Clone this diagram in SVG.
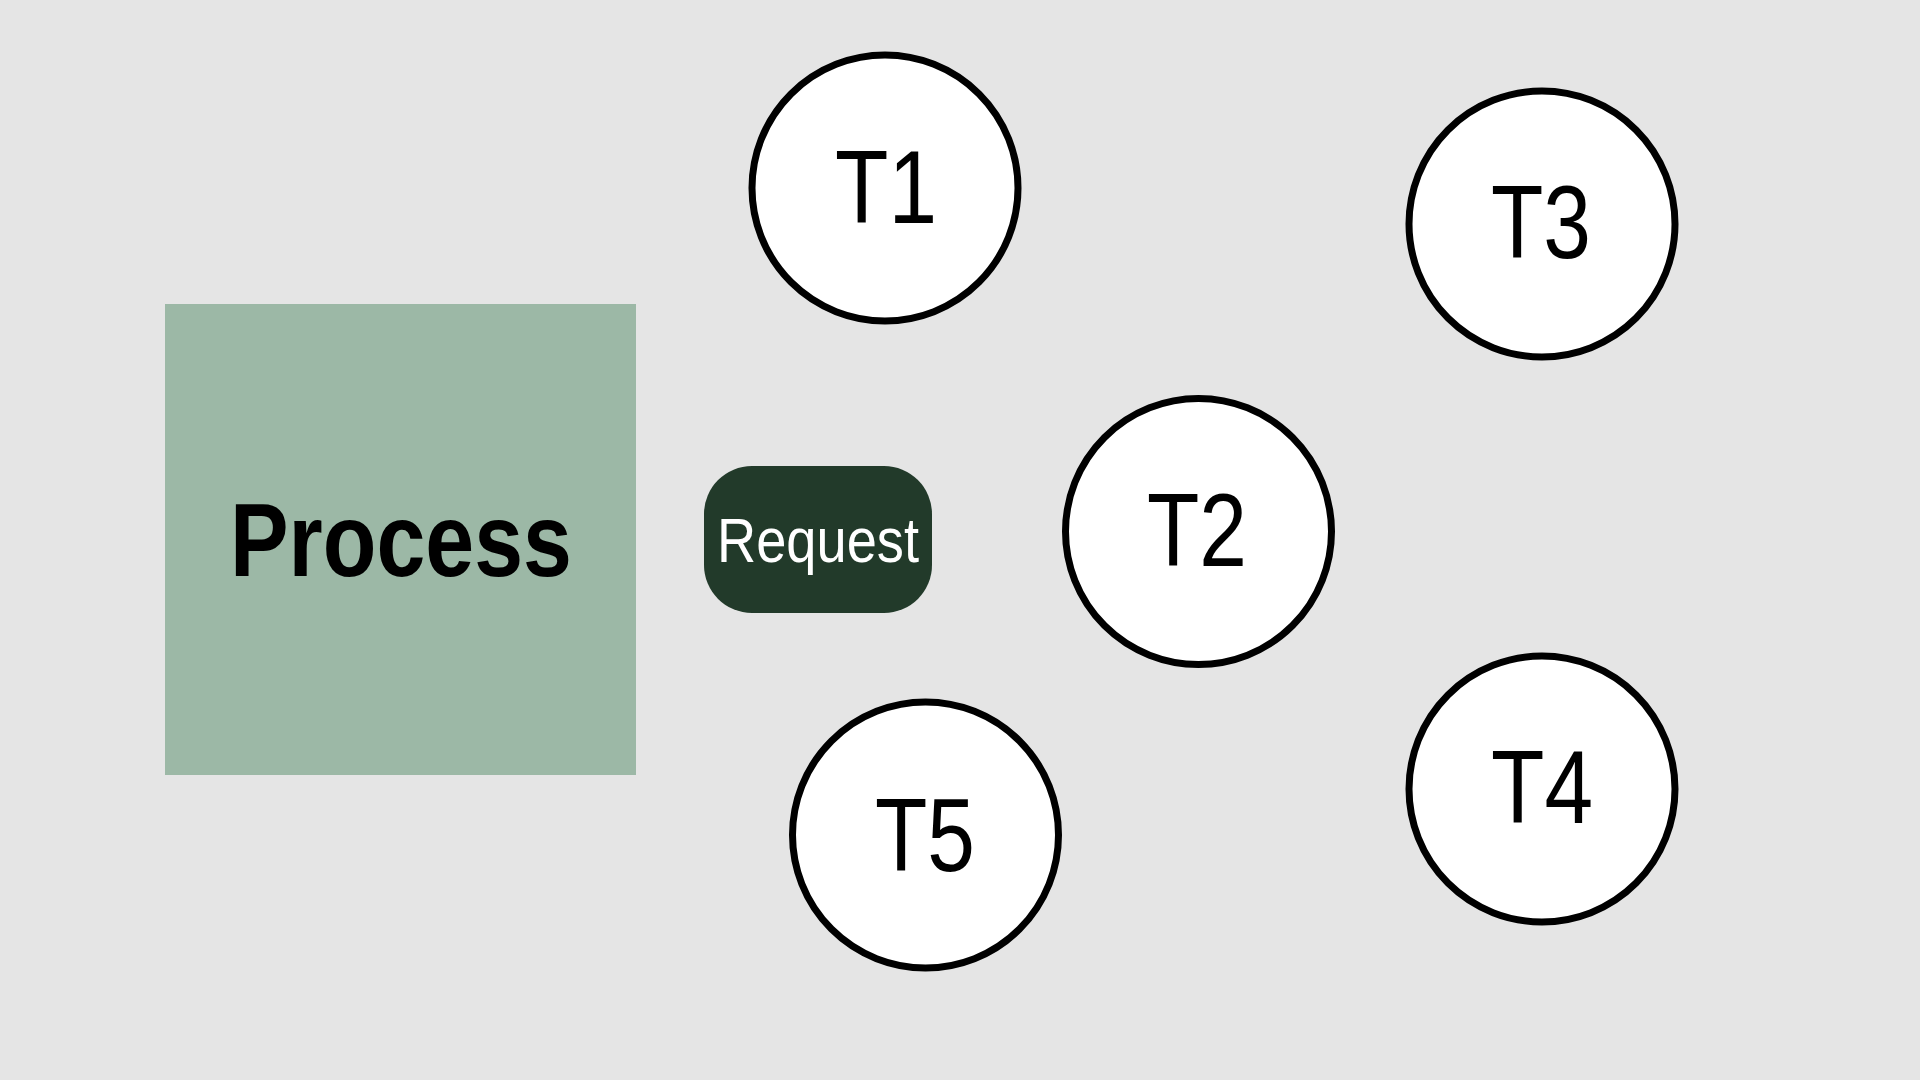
<svg xmlns="http://www.w3.org/2000/svg" width="1920" height="1080" viewBox="0 0 1920 1080">
<style>
.bg{fill:#e5e5e5}
.proc{fill:#9cb8a6}
.pill{fill:#223a2a}
.t{fill:#ffffff;stroke:#000000;stroke-width:7}
.lbl{font-family:"Liberation Sans",Arial,sans-serif;font-size:103px;fill:#000000;text-anchor:middle}
.plbl{font-family:"Liberation Sans",Arial,sans-serif;font-weight:bold;font-size:104px;fill:#000000;text-anchor:middle}
.rlbl{font-family:"Liberation Sans",Arial,sans-serif;font-size:63px;fill:#ffffff;text-anchor:middle}
</style>
<rect class="bg" x="0" y="0" width="1920" height="1080"/>
<g id="connectors"></g>
<g id="process">
<rect class="proc" x="165" y="304" width="471" height="471"/>
<text class="plbl" x="401" y="576" textLength="342" lengthAdjust="spacingAndGlyphs">Process</text>
</g>
<g id="request">
<rect class="pill" x="704" y="466" width="228" height="147" rx="48" ry="48"/>
<text class="rlbl" x="818" y="562" textLength="202" lengthAdjust="spacingAndGlyphs">Request</text>
</g>
<g id="T1">
<circle class="t" cx="885" cy="188" r="133"/>
<text class="lbl" x="886" y="223" textLength="102" lengthAdjust="spacingAndGlyphs">T1</text>
</g>
<g id="T2">
<circle class="t" cx="1198.5" cy="531.5" r="133"/>
<text class="lbl" x="1197" y="566" textLength="100" lengthAdjust="spacingAndGlyphs">T2</text>
</g>
<g id="T3">
<circle class="t" cx="1542" cy="224" r="133"/>
<text class="lbl" x="1541" y="258" textLength="100" lengthAdjust="spacingAndGlyphs">T3</text>
</g>
<g id="T4">
<circle class="t" cx="1542" cy="789" r="133"/>
<text class="lbl" x="1542" y="823" textLength="102" lengthAdjust="spacingAndGlyphs">T4</text>
</g>
<g id="T5">
<circle class="t" cx="925.5" cy="835" r="133"/>
<text class="lbl" x="925" y="871" textLength="100" lengthAdjust="spacingAndGlyphs">T5</text>
</g>
</svg>
